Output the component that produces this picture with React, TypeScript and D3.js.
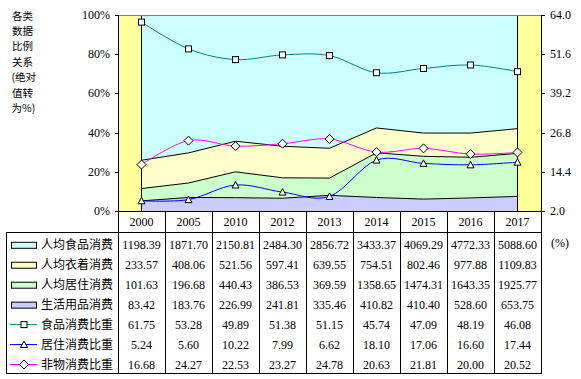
import React from "react";
import * as d3 from "d3";

const years = ["2000", "2005", "2010", "2012", "2013", "2014", "2015", "2016", "2017"];
const food = [1198.39, 1871.7, 2150.81, 2484.3, 2856.72, 3433.37, 4069.29, 4772.33, 5088.6];
const clothing = [233.57, 408.06, 521.56, 597.41, 639.55, 754.51, 802.46, 977.88, 1109.83];
const housing = [101.63, 196.68, 440.43, 386.53, 369.59, 1358.65, 1474.31, 1643.35, 1925.77];
const goods = [83.42, 183.76, 226.99, 241.81, 335.46, 410.82, 410.4, 528.6, 653.75];
const foodRatio = [61.75, 53.28, 49.89, 51.38, 51.15, 45.74, 47.09, 48.19, 46.08];
const housingRatio = [5.24, 5.6, 10.22, 7.99, 6.62, 18.1, 17.06, 16.6, 17.44];
const nonMatRatio = [16.68, 24.27, 22.53, 23.27, 24.78, 20.63, 21.81, 20.0, 20.52];
const leftTicks = [0, 0.2, 0.4, 0.6, 0.8, 1.0];
const rightTicks = [2.0, 14.4, 26.8, 39.2, 51.6, 64.0];
const titleLines = ["各类", "数据", "比例", "关系", "(绝对", "值转", "为%)"];

const areaSeries = [
  { key: "goods", name: "生活用品消费", values: goods, color: "#CCCCFF" },
  { key: "housing", name: "人均居住消费", values: housing, color: "#CCFFCC" },
  { key: "clothing", name: "人均衣着消费", values: clothing, color: "#FFFFCC" },
  { key: "food", name: "人均食品消费", values: food, color: "#CCFFFF" },
];
const lineSeries = [
  { name: "食品消费比重", values: foodRatio, color: "#008080", marker: "square" },
  { name: "居住消费比重", values: housingRatio, color: "#0000FF", marker: "triangle" },
  { name: "非物消费比重", values: nonMatRatio, color: "#FF00FF", marker: "diamond" },
];

const FONT = "'Liberation Serif', 'Times New Roman', 'Noto Sans CJK SC', serif";
const CJK = "'Noto Sans CJK SC', sans-serif";

function Marker({ type, x, y }: { type: string; x: number; y: number }) {
  if (type === "square")
    return <rect x={x - 3} y={y - 3} width={6} height={6} fill="#fff" stroke="#000" strokeWidth={1} />;
  if (type === "triangle")
    return <path d={`M${x},${y - 3.5}L${x + 3.5},${y + 3}L${x - 3.5},${y + 3}Z`} fill="#fff" stroke="#000" strokeWidth={1} />;
  return <path d={`M${x},${y - 4.5}L${x + 4.5},${y}L${x},${y + 4.5}L${x - 4.5},${y}Z`} fill="#fff" stroke="#000" strokeWidth={1} />;
}

export default function App() {
  const W = 581, H = 379;
  const left = 118, right = 542, top = 15, bottom = 211;
  const x = d3.scaleBand<string>().domain(years).range([left, right - 1]).padding(0);
  const bw = x.bandwidth();
  const cx = (i: number) => (x(years[i]) as number) + bw / 2;
  const yL = d3.scaleLinear().domain([0, 1]).range([bottom, top]);
  const yR = d3.scaleLinear().domain([2, 64]).range([bottom, top]);

  const rows = years.map((yr, i) => {
    const r: any = { year: yr };
    areaSeries.forEach((s) => (r[s.key] = s.values[i]));
    return r;
  });
  const stack = d3.stack<any>().keys(areaSeries.map((s) => s.key)).offset(d3.stackOffsetExpand);
  const stacked = stack(rows);
  const area = d3
    .area<any>()
    .x((_, i) => cx(i))
    .y0((d) => yL(d[0]))
    .y1((d) => yL(d[1]));
  const topLine = d3
    .line<any>()
    .x((_, i) => cx(i))
    .y((d) => yL(d[1]));
  const line = d3
    .line<number>()
    .x((_, i) => cx(i))
    .y((d) => yR(d))
    .curve(d3.curveCardinal.tension(0));

  const headerTop = bottom, headerBottom = 232;
  const tableBottom = 373, tableLeft = 6;
  const rowBase = (i: number) => 249.3 + 19.95 * i;
  const tableRows = [
    ...areaSeries.slice().reverse().map((s) => ({ kind: "area", name: s.name, color: s.color, values: s.values, marker: "" })),
    ...lineSeries.map((s) => ({ kind: "line", name: s.name, color: s.color, values: s.values, marker: s.marker })),
  ];

  return (
    <svg width={W} height={H} style={{ position: "absolute", left: 0, top: 0, background: "#fff" }}>
      <rect x={0} y={0} width={W} height={H} fill="#fff" />
      {/* plot background */}
      <rect x={left} y={top} width={right - left} height={bottom - top} fill="#FFFF99" />
      {stacked.map((s, k) => (
        <path key={s.key} d={area(s as any) as string} fill={areaSeries[k].color} stroke="none" />
      ))}
      {stacked.slice(0, 3).map((s) => (
        <path key={"t" + s.key} d={topLine(s as any) as string} fill="none" stroke="#000" strokeWidth={1} />
      ))}
      <line x1={cx(0)} x2={cx(0)} y1={top} y2={bottom} stroke="#000" />
      <line x1={cx(8)} x2={cx(8)} y1={top} y2={bottom} stroke="#000" />
      {/* plot border */}
      <line x1={left} x2={right} y1={top + 0.5} y2={top + 0.5} stroke="#808080" />
      <line x1={left + 0.5} x2={left + 0.5} y1={top} y2={bottom} stroke="#000" />
      <line x1={right - 0.5} x2={right - 0.5} y1={top} y2={bottom} stroke="#000" />
      {/* lines */}
      {lineSeries.map((s) => (
        <g key={s.name}>
          <path d={line(s.values) as string} fill="none" stroke={s.color} strokeWidth={1} />
          {s.values.map((v, i) => (
            <Marker key={i} type={s.marker} x={cx(i)} y={yR(v)} />
          ))}
        </g>
      ))}
      {/* left axis */}
      {leftTicks.map((t) => (
        <g key={"l" + t}>
          <line x1={left - 3} x2={left} y1={Math.round(yL(t)) + 0.5} y2={Math.round(yL(t)) + 0.5} stroke="#000" />
          <text x={110} y={yL(t) + 4} textAnchor="end" fontFamily={FONT} fontSize={12} fill="#000">
            {d3.format(".0%")(t)}
          </text>
        </g>
      ))}
      {/* right axis */}
      {rightTicks.map((t) => (
        <g key={"r" + t}>
          <line x1={right} x2={right + 3} y1={Math.round(yR(t)) + 0.5} y2={Math.round(yR(t)) + 0.5} stroke="#000" />
          <text x={550} y={yR(t) + 4} fontFamily={FONT} fontSize={12} fill="#000">
            {t.toFixed(1)}
          </text>
        </g>
      ))}
      <text x={551} y={247} fontFamily={FONT} fontSize={12} fill="#000">(%)</text>
      {/* title */}
      {titleLines.map((t, i) => (
        <text key={t} x={i === 4 || i === 6 ? 11.5 : 12} y={19.5 + 15.4 * i} fontFamily={CJK} fontSize={10.5} fill="#000">
          {t}
        </text>
      ))}
      {/* header row */}
      {years.map((yr, i) => (
        <text key={yr} x={cx(i)} y={225.7} textAnchor="middle" fontFamily={FONT} fontSize={12} fill="#000">
          {yr}
        </text>
      ))}
      <line x1={left} x2={right} y1={bottom + 0.5} y2={bottom + 0.5} stroke="#000" />
      <line x1={tableLeft} x2={right} y1={headerBottom + 0.5} y2={headerBottom + 0.5} stroke="#000" />
      <line x1={tableLeft} x2={right} y1={tableBottom + 0.5} y2={tableBottom + 0.5} stroke="#000" />
      <line x1={tableLeft + 0.5} x2={tableLeft + 0.5} y1={headerBottom} y2={tableBottom + 1} stroke="#000" />
      {d3.range(years.length + 1).map((i) => {
        const xx = i < years.length ? (x(years[i]) as number) : right - 1;
        return (
          <line key={"v" + i} x1={Math.round(xx) + 0.5} x2={Math.round(xx) + 0.5} y1={headerTop} y2={tableBottom + 1} stroke="#000" />
        );
      })}
      {/* table body */}
      {tableRows.map((r, ri) => {
        const by = rowBase(ri);
        return (
          <g key={r.name}>
            {r.kind === "area" ? (
              <rect x={11.5} y={by - 7} width={25} height={6} fill={r.color} stroke="#000" strokeWidth={1} />
            ) : (
              <g>
                <line x1={10} x2={37} y1={by - 4.5} y2={by - 4.5} stroke={r.color} strokeWidth={1} />
                <Marker type={r.marker} x={24} y={by - 4.5} />
              </g>
            )}
            <text x={41} y={by} fontFamily={CJK} fontSize={12} fill="#000">
              {r.name}
            </text>
            {r.values.map((v, i) => (
              <text key={i} x={cx(i)} y={by} textAnchor="middle" fontFamily={FONT} fontSize={12} fill="#000">
                {v.toFixed(2)}
              </text>
            ))}
          </g>
        );
      })}
    </svg>
  );
}
